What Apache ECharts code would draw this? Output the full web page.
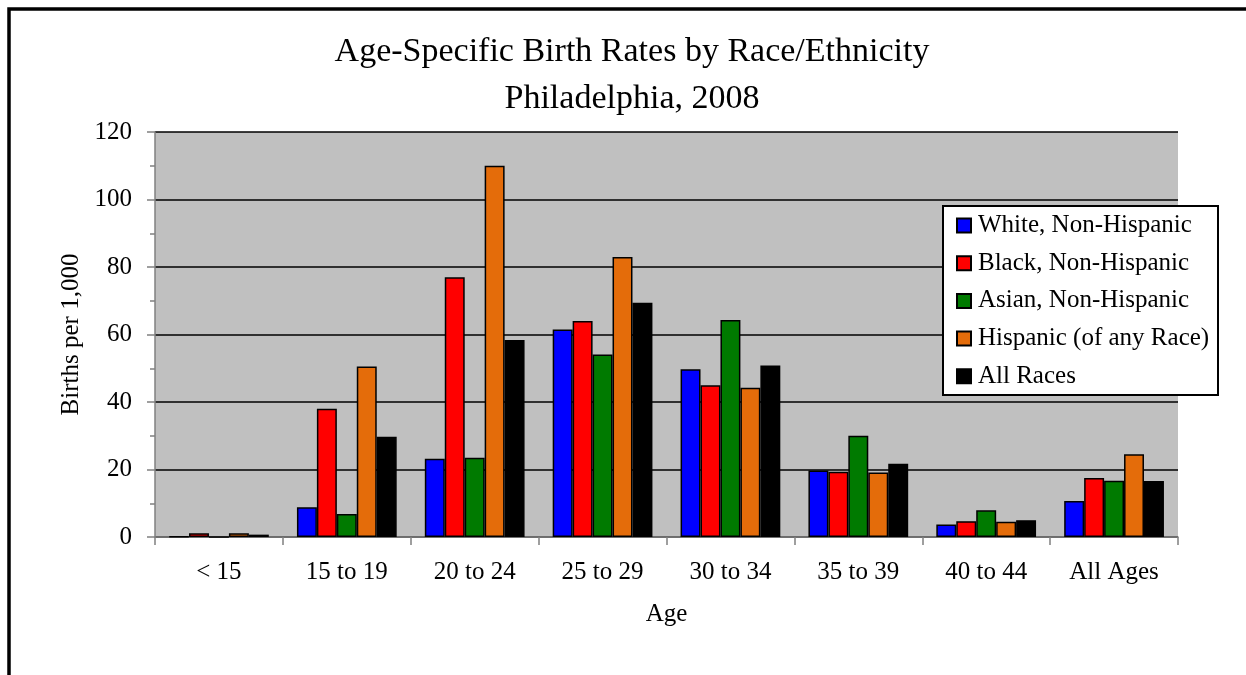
<!DOCTYPE html>
<html>
<head>
<meta charset="utf-8">
<script src="https://cdn.jsdelivr.net/npm/echarts@6/dist/echarts.min.js"></script>
<style>
html,body{margin:0;padding:0;background:#fff;}
#chart{width:1246px;height:675px;}
</style>
</head>
<body>
<div id="chart"></div>
<script>
const categories = ['< 15', '15 to 19', '20 to 24', '25 to 29', '30 to 34', '35 to 39', '40 to 44', 'All Ages'];
const seriesNames = ['White, Non-Hispanic', 'Black, Non-Hispanic', 'Asian, Non-Hispanic', 'Hispanic (of any Race)', 'All Races'];
const white    = [0.1, 8.8, 23.2, 61.5, 49.7, 19.7, 3.7, 10.7];
const black    = [1.1, 38.0, 77.0, 64.0, 45.0, 19.3, 4.7, 17.5];
const asian    = [0.0, 6.8, 23.5, 54.1, 64.3, 30.0, 7.9, 16.7];
const hispanic = [1.1, 50.5, 110.0, 83.0, 44.2, 19.1, 4.5, 24.5];
const allRaces = [0.7, 29.7, 58.4, 69.4, 50.8, 21.7, 5.0, 16.6];
const yTicks = [0, 20, 40, 60, 80, 100, 120];
const colors = ['#0000FF', '#FF0000', '#007A00', '#E46C0A', '#000000'];

const FONT = 'Liberation Serif';
const seriesData = [white, black, asian, hispanic, allRaces];

const chart = echarts.init(document.getElementById('chart'));
chart.setOption({
  animation: false,
  backgroundColor: '#fff',
  textStyle: { fontFamily: FONT, color: '#000' },
  title: {
    text: 'Age-Specific Birth Rates by Race/Ethnicity\nPhiladelphia, 2008',
    left: 632,
    textAlign: 'center',
    top: 29,
    padding: 0,
    textStyle: { fontFamily: FONT, fontSize: 34, fontWeight: 'normal', color: '#000', lineHeight: 47 }
  },
  graphic: [
    { type: 'rect', z: 0, shape: { x: 9, y: 9, width: 1300, height: 700 },
      style: { fill: 'none', stroke: '#000', lineWidth: 3.5 } },
    { type: 'rect', z: 3, shape: { x: 943, y: 206, width: 275, height: 189 },
      style: { fill: '#fff', stroke: '#000', lineWidth: 2 } }
  ],
  legend: {
    orient: 'vertical',
    left: 950,
    top: 213,
    padding: [0, 0, 0, 6],
    itemWidth: 14,
    itemHeight: 14,
    itemGap: 12.7,
    icon: 'rect',
    z: 5,
    textStyle: { fontFamily: FONT, fontSize: 25, color: '#000', padding: [0, 0, 0, 2] },
    data: seriesNames
  },
  grid: { left: 155, top: 132, right: 68, bottom: 138, backgroundColor: '#C0C0C0', show: true, borderWidth: 0 },
  xAxis: {
    type: 'category',
    data: categories,
    name: 'Age',
    nameLocation: 'middle',
    nameGap: 65,
    nameTextStyle: { fontFamily: FONT, fontSize: 25, color: '#000' },
    axisLine: { lineStyle: { color: '#808080', width: 1.5 } },
    axisTick: { show: true, length: 8, interval: 0, alignWithLabel: false, lineStyle: { color: '#808080', width: 1.5 } },
    axisLabel: { fontFamily: FONT, fontSize: 25, color: '#000', margin: 23, interval: 0 }
  },
  yAxis: {
    type: 'value',
    min: 0,
    max: 120,
    interval: 20,
    name: 'Births per 1,000',
    nameLocation: 'middle',
    nameGap: 67,
    nameTextStyle: { fontFamily: FONT, fontSize: 25, color: '#000' },
    axisLine: { show: true, lineStyle: { color: '#808080', width: 1.5 } },
    axisTick: { show: true, length: 8, lineStyle: { color: '#808080', width: 1.5 } },
    minorTick: { show: true, splitNumber: 2, length: 5, lineStyle: { color: '#808080', width: 1.5 } },
    splitLine: { show: true, lineStyle: { color: '#000', width: 1.5 } },
    axisLabel: { fontFamily: FONT, fontSize: 25, color: '#000', margin: 23,
      formatter: v => yTicks.includes(v) ? String(v) : '' }
  },
  series: seriesNames.map((n, i) => ({
    name: n,
    type: 'bar',
    data: seriesData[i],
    barGap: '0%',
    barCategoryGap: '22%',
    itemStyle: { color: colors[i], borderColor: '#000', borderWidth: 1.5 }
  }))
});
</script>
</body>
</html>
